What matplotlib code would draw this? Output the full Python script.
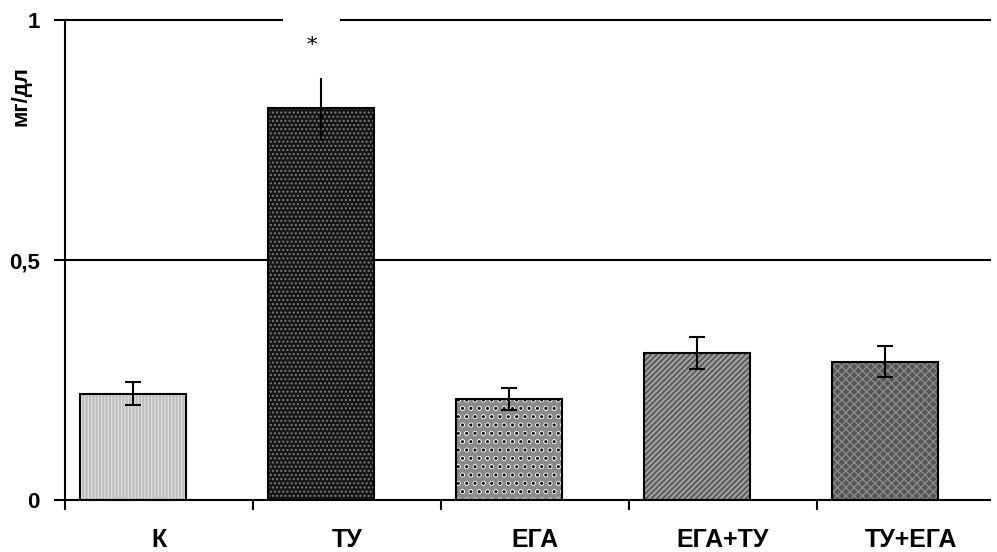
import matplotlib
matplotlib.use("Agg")
import matplotlib.pyplot as plt
import numpy as np

categories = ["К", "ТУ", "ЕГА", "ЕГА+ТУ", "ТУ+ЕГА"]
values = [0.221, 0.817, 0.210, 0.306, 0.288]
errors = [0.024, 0.070, 0.023, 0.034, 0.032]
ytick_vals = [0, 0.5, 1]
ytick_labels = ["0", "0,5", "1"]
ylabel = "мг/дл"
star_label = "*"

faces = ["#bdbdbd", "#151515", "#8a8a8a", "#9c9c9c", "#555555"]
hatch_cols = ["#dedede", "#7a7a7a", "#f2f2f2", "#4a4a4a", "#8a8a8a"]
hatches = ["|||||", "....", "oo", "//////", "xxxx"]

plt.rcParams['font.family'] = ['Liberation Sans', 'DejaVu Sans']
plt.rcParams['hatch.linewidth'] = 1.0

W, H = 997, 552
fig = plt.figure(figsize=(W / 100, H / 100), dpi=100)
ax = fig.add_axes([65 / W, 1 - 500 / H, (990 - 65) / W, 480 / H])

x = np.arange(len(categories))
width = 0.56
shift = -0.138
for i in range(len(categories)):
    ax.bar(x[i] + shift, values[i], width, color=faces[i], hatch=hatches[i],
           edgecolor=hatch_cols[i], linewidth=0, zorder=3)
    if i == 2:
        ax.bar(x[i] + shift, values[i], width, fill=False, hatch="..",
               edgecolor="#111111", linewidth=0, zorder=3)
    ax.bar(x[i] + shift, values[i], width, fill=False, edgecolor="black",
           linewidth=1.5, zorder=4)
    cap = 0 if i == 1 else 6
    ax.errorbar(x[i] + shift, values[i], yerr=errors[i], fmt="none", ecolor="black",
                elinewidth=1.5, capsize=cap, capthick=1.5, zorder=5)

for yv in [0.5, 1.0]:
    ax.axhline(yv, color="black", linewidth=1.5, zorder=1, clip_on=False)

ax.text(x[1] + shift - 0.05, values[1] + errors[1] + 0.06, star_label, ha="center",
        va="center", fontsize=15, family="DejaVu Serif", zorder=6,
        bbox=dict(facecolor="white", edgecolor="none", pad=17))

ax.set_xlim(-0.5, 4.42)
ax.set_ylim(0, 1)
ax.set_yticks(ytick_vals)
ax.set_yticklabels(ytick_labels, fontsize=16, fontweight="bold")
ax.set_xticks(x)
ax.set_xticklabels(categories, fontsize=18, fontweight="bold")
ax.tick_params(axis="x", which="major", length=0, pad=20)
ax.set_xticks(np.arange(-0.5, 4.5, 1.0), minor=True)
ax.tick_params(axis="x", which="minor", length=7, width=1.5, direction="out")
ax.tick_params(axis="y", length=8, width=1.5, direction="out", pad=10)

for s in ["top", "right"]:
    ax.spines[s].set_visible(False)
for s in ["left", "bottom"]:
    ax.spines[s].set_linewidth(1.5)
    ax.spines[s].set_zorder(6)

ax.set_ylabel(ylabel, fontsize=16, fontweight="bold")
ax.yaxis.set_label_coords(-0.036, 0.842)

fig.savefig("out.png", dpi=100)
